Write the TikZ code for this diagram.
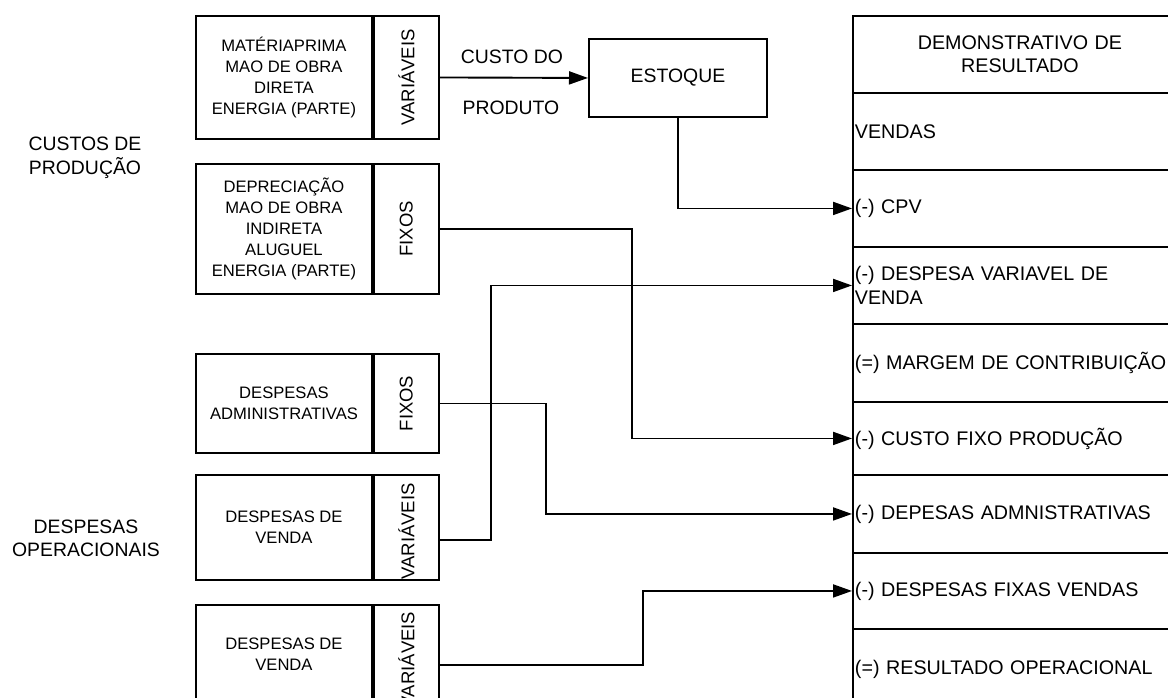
\documentclass[tikz,border=0pt]{standalone}
\usepackage{fontspec}
\setmainfont{Liberation Sans}
\usetikzlibrary{arrows.meta,calc}
\begin{document}
\begin{tikzpicture}[x=1pt,y=-1pt,
  box/.style={draw=black,line width=1.9pt,rectangle,inner sep=0pt,anchor=north west},
  boxtxt/.style={font=\fontsize{16.6}{21}\selectfont,align=center},
  vlab/.style={font=\fontsize{18.5}{21}\selectfont,rotate=90},
  lab/.style={font=\fontsize{19.4}{23.5}\selectfont,align=center},
  row/.style={draw=black,line width=1.9pt,rectangle,anchor=north west,minimum width=334pt,
    text width=330pt,inner xsep=2pt,inner ysep=0pt,align=left,font=\fontsize{19.7}{23.5}\selectfont},
  arr/.style={line width=1.9pt,-{Triangle[length=19pt,width=13pt]}},
  ln/.style={line width=1.9pt}
]
\useasboundingbox (0,0) rectangle (1168,697);
\clip (0,0) rectangle (1168,697);

% left group labels
\node[lab] (cp) at (85,158) {CUSTOS DE\\PRODUÇÃO};
\node[lab] (dop) at (86,538.5) {DESPESAS\\OPERACIONAIS};

% box 1
\node[box,minimum width=176pt,minimum height=123pt] (b1) at (195,15) {};
\node[box,minimum width=65pt,minimum height=123pt] (b1l) at (b1.north east) {};
\node[boxtxt] (b1t) at (b1.center) {MATÉRIAPRIMA\\MAO DE OBRA\\DIRETA\\ENERGIA (PARTE)};
\node[vlab] (b1v) at (b1l.center) {VARIÁVEIS};

% box 2
\node[box,minimum width=176pt,minimum height=130pt] (b2) at (195,163) {};
\node[box,minimum width=65pt,minimum height=130pt] (b2l) at (b2.north east) {};
\node[boxtxt] (b2t) at (b2.center) {DEPRECIAÇÃO\\MAO DE OBRA\\INDIRETA\\ALUGUEL\\ENERGIA (PARTE)};
\node[vlab] (b2v) at (b2l.center) {FIXOS};

% box 3
\node[box,minimum width=176pt,minimum height=99pt] (b3) at (195,353) {};
\node[box,minimum width=65pt,minimum height=99pt] (b3l) at (b3.north east) {};
\node[boxtxt] (b3t) at (b3.center) {DESPESAS\\ADMINISTRATIVAS};
\node[vlab] (b3v) at (b3l.center) {FIXOS};

% box 4
\node[box,minimum width=176pt,minimum height=105pt] (b4) at (195,474) {};
\node[box,minimum width=65pt,minimum height=105pt] (b4l) at (b4.north east) {};
\node[boxtxt] (b4t) at (b4.center) {DESPESAS DE\\VENDA};
\node[vlab] (b4v) at ([yshift=-4pt]b4l.center) {VARIÁVEIS};

% box 5
\node[box,minimum width=176pt,minimum height=100pt] (b5) at (195,604) {};
\node[box,minimum width=65pt,minimum height=100pt] (b5l) at (b5.north east) {};
\node[boxtxt] (b5t) at ([yshift=1pt]b5.center) {DESPESAS DE\\VENDA};
\node[vlab] (b5v) at ([yshift=-5pt]b5l.center) {VARIÁVEIS};

% estoque
\node[box,minimum width=178pt,minimum height=78pt] (est) at (588,38) {};
\node[lab] (estt) at (est.center) {ESTOQUE};
\node[lab] (cd) at (512,57) {CUSTO DO};
\node[lab] (pr) at (511,108) {PRODUTO};

% demonstrativo table
\node[row,minimum height=77pt,align=center] (hdr) at (852,15) {DEMONSTRATIVO DE\\RESULTADO};
\node[row,minimum height=77pt] (vendas) at (852,92) {VENDAS};
\node[row,minimum height=77pt] (cpv) at (852,169) {(-) CPV};
\node[row,minimum height=77pt] (dvv) at (852,246) {(-) DESPESA VARIAVEL DE\\VENDA};
\node[row,minimum height=78pt] (mc) at (852,323) {(=) MARGEM DE CONTRIBUIÇÃO};
\node[row,minimum height=73pt] (cfp) at (852,401) {(-) CUSTO FIXO PRODUÇÃO};
\node[row,minimum height=78pt] (dadm) at (852,474) {(-) DEPESAS ADMNISTRATIVAS};
\node[row,minimum height=76pt] (dfv) at (852,552) {(-) DESPESAS FIXAS VENDAS};
\node[row,minimum height=80pt] (res) at (852,628) {(=) RESULTADO OPERACIONAL};

% bend coordinates
\coordinate (k2) at (632,0);
\coordinate (k3) at (546,0);
\coordinate (k4) at (491,0);
\coordinate (k5) at (643,0);

% connectors
\draw[arr] (b1l.east) -- (est.west);
\draw[arr] (est.south) |- (cpv.west);
\draw[arr] (b2l.east) -| (k2 |- cfp.west) -- (cfp.west);
\draw[arr] ([yshift=-12.5pt]b4l.east) -| (k4 |- dvv.west) -- (dvv.west);
\draw[arr] (b3l.east) -| (k3 |- dadm.west) -- (dadm.west);
\draw[arr] ([yshift=-10pt]b5l.east) -| (k5 |- dfv.west) -- (dfv.west);
\end{tikzpicture}
\end{document}
